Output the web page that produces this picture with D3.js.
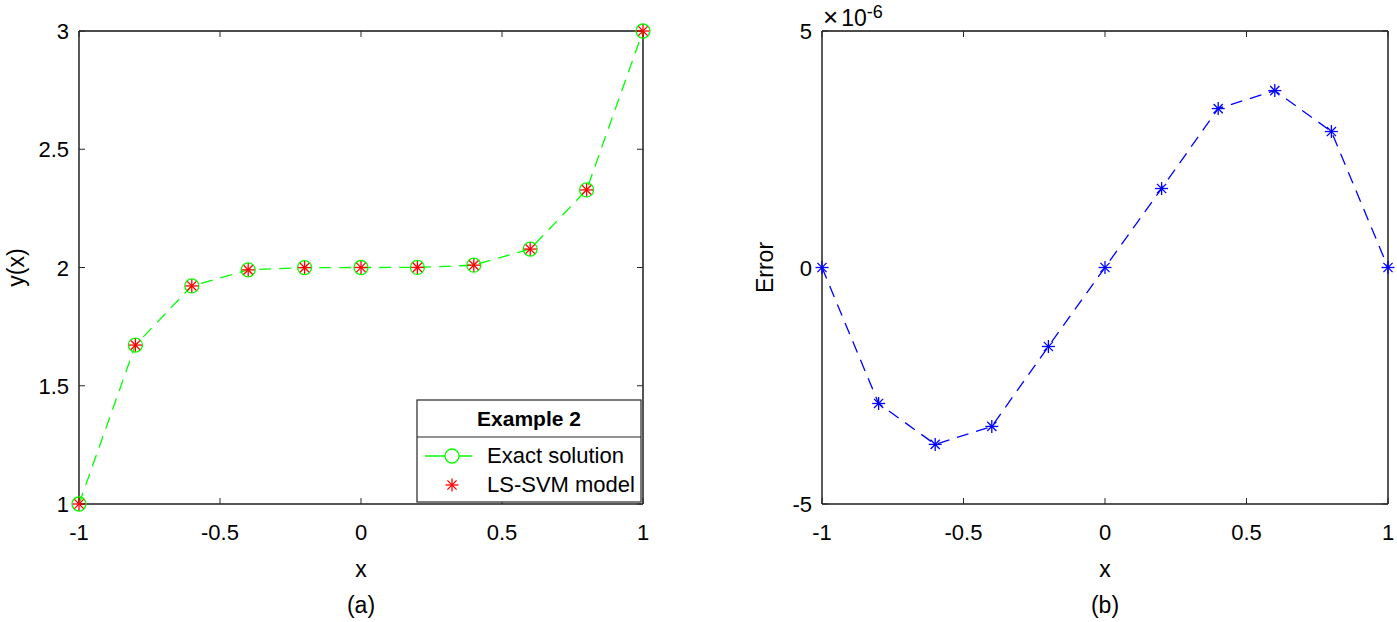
<!DOCTYPE html>
<html>
<head>
<meta charset="utf-8">
<script src="https://cdn.jsdelivr.net/npm/d3@7"></script>
<style>
  body { margin: 0; background: #fff; }
  text { font-family: "Liberation Sans", Arial, sans-serif; fill: #000; }
</style>
</head>
<body>
<svg width="1397" height="622"></svg>
<script>
const xs = [-1, -0.8, -0.6, -0.4, -0.2, 0, 0.2, 0.4, 0.6, 0.8, 1];
const exact = [1, 1.672, 1.922, 1.990, 1.9997, 2, 2.0003, 2.010, 2.078, 2.328, 3];
const model = [1, 1.672, 1.922, 1.990, 1.9997, 2, 2.0003, 2.010, 2.078, 2.328, 3];
const errors = [0, -2.875, -3.74, -3.36, -1.67, 0, 1.67, 3.36, 3.74, 2.875, 0]; // x 1e-6
const xTicks = [-1, -0.5, 0, 0.5, 1];
const yTicksA = [1, 1.5, 2, 2.5, 3];
const yTicksB = [-5, 0, 5];

const svg = d3.select('svg');
const fs = 22;

function asterisk(g, cx, cy, r, color) {
  for (let k = 0; k < 4; k++) {
    const a = k * Math.PI / 4;
    g.append('line')
      .attr('x1', cx - r * Math.cos(a)).attr('y1', cy - r * Math.sin(a))
      .attr('x2', cx + r * Math.cos(a)).attr('y2', cy + r * Math.sin(a))
      .attr('stroke', color).attr('stroke-width', 1.3);
  }
}

function panel(opts) {
  const {left, right, top, bottom, yDomain, yTicks} = opts;
  const x = d3.scaleLinear().domain([-1, 1]).range([left, right]);
  const y = d3.scaleLinear().domain(yDomain).range([bottom, top]);
  const g = svg.append('g');

  // box: top/left dark, right/bottom grey like the original
  g.append('line').attr('x1', left).attr('x2', right).attr('y1', top).attr('y2', top)
    .attr('stroke', '#111').attr('stroke-width', 1.5);
  g.append('line').attr('x1', left).attr('x2', left).attr('y1', top).attr('y2', bottom)
    .attr('stroke', '#222').attr('stroke-width', 1.5);
  g.append('line').attr('x1', left).attr('x2', right).attr('y1', bottom).attr('y2', bottom)
    .attr('stroke', '#555').attr('stroke-width', 2);
  g.append('line').attr('x1', right).attr('x2', right).attr('y1', top).attr('y2', bottom)
    .attr('stroke', '#555').attr('stroke-width', 2);

  // ticks (inward) + labels
  xTicks.forEach(t => {
    g.append('line').attr('x1', x(t)).attr('x2', x(t)).attr('y1', bottom).attr('y2', bottom - 6)
      .attr('stroke', '#262626');
    g.append('line').attr('x1', x(t)).attr('x2', x(t)).attr('y1', top).attr('y2', top + 6)
      .attr('stroke', '#262626');
    g.append('text').attr('x', x(t)).attr('y', bottom + 36)
      .attr('text-anchor', 'middle').attr('font-size', fs).text(t);
  });
  yTicks.forEach(t => {
    g.append('line').attr('x1', left).attr('x2', left + 6).attr('y1', y(t)).attr('y2', y(t))
      .attr('stroke', '#262626');
    g.append('line').attr('x1', right).attr('x2', right - 6).attr('y1', y(t)).attr('y2', y(t))
      .attr('stroke', '#262626');
    g.append('text').attr('x', left - 10).attr('y', y(t) + 8)
      .attr('text-anchor', 'end').attr('font-size', fs).text(t);
  });

  // axis labels
  g.append('text').attr('x', (left + right) / 2).attr('y', 577)
    .attr('text-anchor', 'middle').attr('font-size', 23).text('x');
  g.append('text').attr('x', (left + right) / 2).attr('y', 613)
    .attr('text-anchor', 'middle').attr('font-size', 23).text(opts.caption);
  g.append('text')
    .attr('transform', `translate(${opts.yLabelX},${(top + bottom) / 2}) rotate(-90)`)
    .attr('text-anchor', 'middle').attr('font-size', 23).text(opts.yLabel);
  return {g, x, y};
}

// ---- panel (a)
const A = panel({left: 79, right: 643, top: 31, bottom: 504, yDomain: [1, 3],
  yTicks: yTicksA, caption: '(a)', yLabel: 'y(x)', yLabelX: 24});

A.g.append('path')
  .datum(xs.map((d, i) => [d, exact[i]]))
  .attr('d', d3.line().x(d => A.x(d[0])).y(d => A.y(d[1])))
  .attr('fill', 'none').attr('stroke', '#00ff00').attr('stroke-width', 1.3)
  .attr('stroke-dasharray', '12,8');
xs.forEach((d, i) => {
  A.g.append('circle').attr('cx', A.x(d)).attr('cy', A.y(exact[i])).attr('r', 7)
    .attr('fill', 'none').attr('stroke', '#00ff00').attr('stroke-width', 1.3);
  asterisk(A.g, A.x(d), A.y(model[i]), 6.5, '#ff0000');
});

// legend
const lg = A.g.append('g');
lg.append('rect').attr('x', 417).attr('y', 400).attr('width', 224).attr('height', 102)
  .attr('fill', '#fff').attr('stroke', '#262626').attr('stroke-width', 1.2);
lg.append('line').attr('x1', 417).attr('x2', 641).attr('y1', 437).attr('y2', 437)
  .attr('stroke', '#262626').attr('stroke-width', 1.2);
lg.append('text').attr('x', 529).attr('y', 426).attr('text-anchor', 'middle')
  .attr('font-size', 21).attr('font-weight', 'bold').text('Example 2');
lg.append('line').attr('x1', 425).attr('x2', 472).attr('y1', 456).attr('y2', 456)
  .attr('stroke', '#00ff00').attr('stroke-width', 1.3);
lg.append('circle').attr('cx', 452).attr('cy', 456).attr('r', 7)
  .attr('fill', '#fff').attr('stroke', '#00ff00').attr('stroke-width', 1.3);
asterisk(lg, 452, 485, 6.5, '#ff0000');
lg.append('text').attr('x', 487).attr('y', 463).attr('font-size', 22).text('Exact solution');
lg.append('text').attr('x', 487).attr('y', 492).attr('font-size', 22).text('LS-SVM model');

// ---- panel (b)
const B = panel({left: 822, right: 1388, top: 31, bottom: 504, yDomain: [-5, 5],
  yTicks: yTicksB, caption: '(b)', yLabel: 'Error', yLabelX: 773});

B.g.append('path')
  .datum(xs.map((d, i) => [d, errors[i]]))
  .attr('d', d3.line().x(d => B.x(d[0])).y(d => B.y(d[1])))
  .attr('fill', 'none').attr('stroke', '#0000ff').attr('stroke-width', 1.3)
  .attr('stroke-dasharray', '12,8');
xs.forEach((d, i) => asterisk(B.g, B.x(d), B.y(errors[i]), 6.5, '#0000ff'));

// exponent
const ex = B.g.append('text').attr('x', 823).attr('y', 26).attr('font-size', 23);
ex.append('tspan').attr('font-size', 26).text('\u00d7');
ex.append('tspan').attr('dx', 3).text('10');
ex.append('tspan').attr('dy', -8).attr('font-size', 18).text('-6');
</script>
</body>
</html>
